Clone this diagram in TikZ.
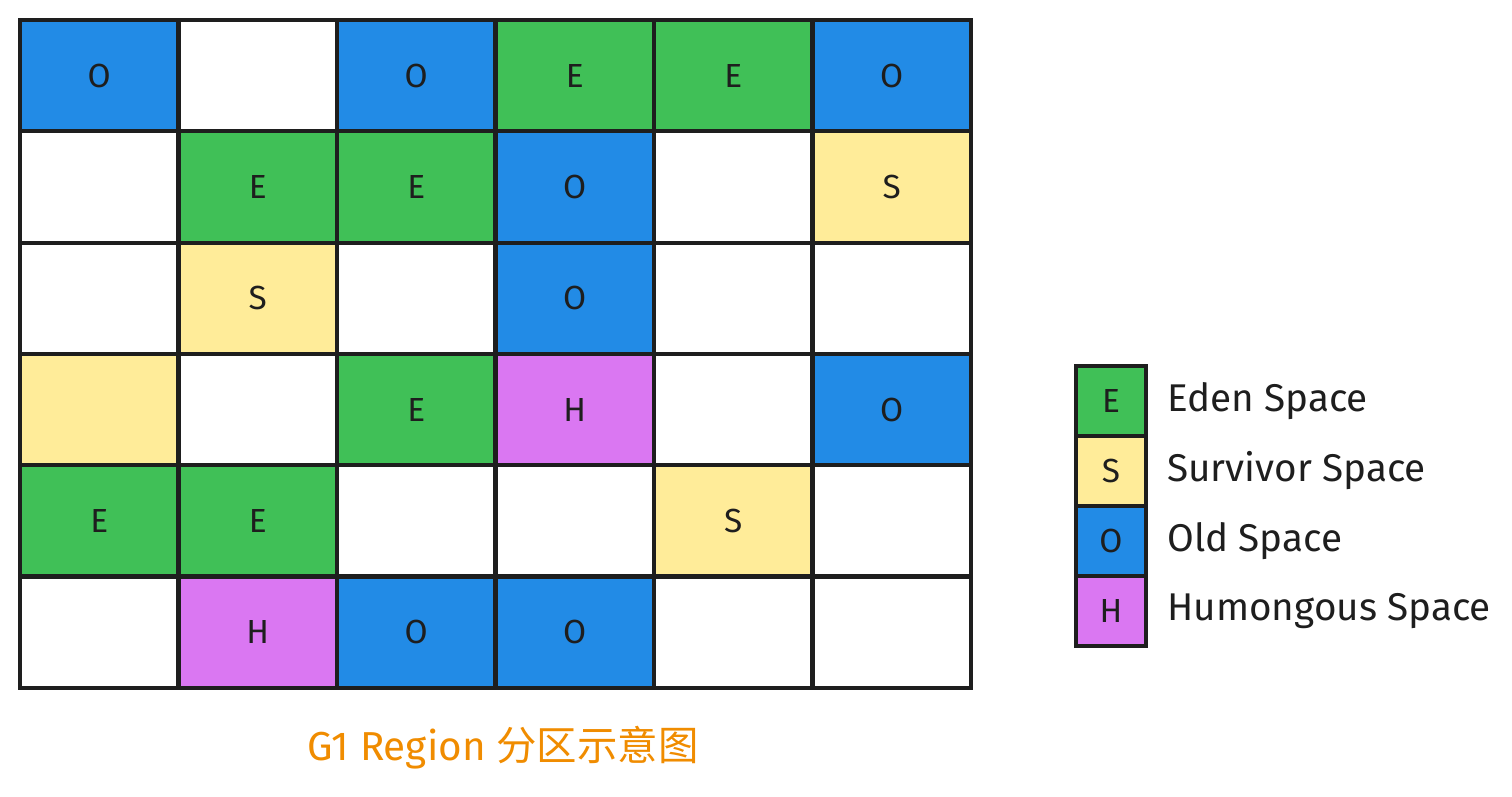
\documentclass[tikz,border=0pt]{standalone}
\usepackage{fontspec}
\setmainfont{Fira Sans}
\newfontfamily\cjkfont{Noto Sans CJK SC}
\usepackage{xcolor}
\usetikzlibrary{positioning}

\definecolor{ink}{HTML}{1E1E1E}
\definecolor{edengreen}{HTML}{40C057}
\definecolor{survyellow}{HTML}{FFEC99}
\definecolor{oldblue}{HTML}{228BE6}
\definecolor{humpurple}{HTML}{DA77F2}
\definecolor{captionorange}{HTML}{F08C00}

\tikzset{
    cell/.style={draw=ink, line width=2.3pt, minimum width=3.17cm, minimum height=2.226cm,
        inner sep=0pt, text=ink, font=\fontsize{19}{19}\selectfont},
    freecell/.style={cell, fill=white},
    eden/.style={cell, fill=edengreen},
    surv/.style={cell, fill=survyellow},
    old/.style={cell, fill=oldblue},
    hum/.style={cell, fill=humpurple},
    legbox/.style={cell, minimum width=1.4cm, minimum height=1.4cm},
    legtext/.style={text=ink, font=\fontsize{22}{22}\selectfont, inner sep=0pt}
}

\begin{document}
\begin{tikzpicture}
        \useasboundingbox (0, 0) rectangle (30.24, 15.94);

        % row 1
        \node[old]      (c11) at (1.985, 14.427)  {O};
        \node[freecell] (c12) at (5.155, 14.427)  {};
        \node[old]      (c13) at (8.325, 14.427)  {O};
        \node[eden]     (c14) at (11.495, 14.427) {E};
        \node[eden]     (c15) at (14.665, 14.427) {E};
        \node[old]      (c16) at (17.835, 14.427) {O};

        % row 2
        \node[freecell] (c21) at (1.985, 12.201)  {};
        \node[eden]     (c22) at (5.155, 12.201)  {E};
        \node[eden]     (c23) at (8.325, 12.201)  {E};
        \node[old]      (c24) at (11.495, 12.201) {O};
        \node[freecell] (c25) at (14.665, 12.201) {};
        \node[surv]     (c26) at (17.835, 12.201) {S};

        % row 3
        \node[freecell] (c31) at (1.985, 9.975)  {};
        \node[surv]     (c32) at (5.155, 9.975)  {S};
        \node[freecell] (c33) at (8.325, 9.975)  {};
        \node[old]      (c34) at (11.495, 9.975) {O};
        \node[freecell] (c35) at (14.665, 9.975) {};
        \node[freecell] (c36) at (17.835, 9.975) {};

        % row 4
        \node[surv]     (c41) at (1.985, 7.749)  {};
        \node[freecell] (c42) at (5.155, 7.749)  {};
        \node[eden]     (c43) at (8.325, 7.749)  {E};
        \node[hum]      (c44) at (11.495, 7.749) {H};
        \node[freecell] (c45) at (14.665, 7.749) {};
        \node[old]      (c46) at (17.835, 7.749) {O};

        % row 5
        \node[eden]     (c51) at (1.985, 5.523)  {E};
        \node[eden]     (c52) at (5.155, 5.523)  {E};
        \node[freecell] (c53) at (8.325, 5.523)  {};
        \node[freecell] (c54) at (11.495, 5.523) {};
        \node[surv]     (c55) at (14.665, 5.523) {S};
        \node[freecell] (c56) at (17.835, 5.523) {};

        % row 6
        \node[freecell] (c61) at (1.985, 3.297)  {};
        \node[hum]      (c62) at (5.155, 3.297)  {H};
        \node[old]      (c63) at (8.325, 3.297)  {O};
        \node[old]      (c64) at (11.495, 3.297) {O};
        \node[freecell] (c65) at (14.665, 3.297) {};
        \node[freecell] (c66) at (17.835, 3.297) {};

        % legend
        \node[legbox, fill=edengreen]  (legE) at (22.22, 7.92) {E};
        \node[legbox, fill=survyellow] (legS) at (22.22, 6.52) {S};
        \node[legbox, fill=oldblue]    (legO) at (22.22, 5.12) {O};
        \node[legbox, fill=humpurple]  (legH) at (22.22, 3.72) {H};

        \node[legtext, right=0.38cm of legE] (txtE) {Eden Space};
        \node[legtext, right=0.38cm of legS] (txtS) {Survivor Space};
        \node[legtext, right=0.38cm of legO] (txtO) {Old Space};
        \node[legtext, right=0.38cm of legH] (txtH) {Humongous Space};

        % caption
        \node[text=captionorange, font=\fontsize{23}{23}\selectfont] (caption) at (10.06, 0.98)
            {G1 Region \cjkfont 分区示意图};
    \end{tikzpicture}
\end{document}
